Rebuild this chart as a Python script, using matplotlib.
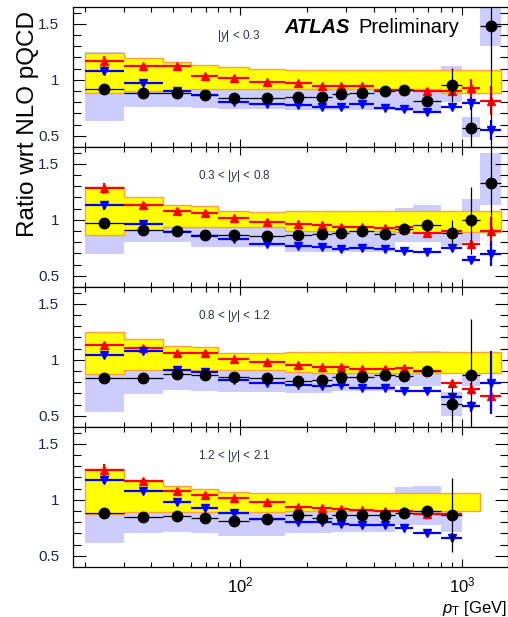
import numpy as np
import matplotlib
matplotlib.use('Agg')
import matplotlib.pyplot as plt
from matplotlib.ticker import FixedLocator, NullFormatter, LogLocator

plt.rcParams['font.family'] = ['Liberation Sans', 'DejaVu Sans']
plt.rcParams['mathtext.fontset'] = 'custom'
plt.rcParams['mathtext.rm'] = 'Liberation Sans'
plt.rcParams['mathtext.it'] = 'Liberation Sans:italic'
plt.rcParams['mathtext.bf'] = 'Liberation Sans:bold'

nan = np.nan

# pT bin edges [GeV]
pt_edges = [20, 30, 45, 60, 80, 110, 160, 210, 260, 310, 400, 500, 600, 800, 1000, 1200, 1500]

rap_labels = ['$|y|$ < 0.3', '0.3 < $|y|$ < 0.8', '0.8 < $|y|$ < 1.2', '1.2 < $|y|$ < 2.1']

# data / NLO
data_ratio = [
    [0.92, 0.88, 0.88, 0.86, 0.84, 0.84, 0.85, 0.845, 0.875, 0.883, 0.904, 0.91, 0.815, 0.955, 0.57, 1.48],
    [0.97, 0.905, 0.90, 0.867, 0.867, 0.852, 0.86, 0.87, 0.88, 0.897, 0.876, 0.92, 0.95, 0.885, 0.996, 1.325],
    [0.837, 0.837, 0.876, 0.86, 0.846, 0.837, 0.81, 0.82, 0.846, 0.846, 0.86, 0.855, 0.90, 0.607, 0.867, nan],
    [0.88, 0.845, 0.857, 0.836, 0.815, 0.83, 0.86, 0.84, 0.86, 0.86, 0.866, 0.88, 0.90, 0.866, nan, nan],
]
data_err = [
    [0.01, 0.01, 0.01, 0.01, 0.01, 0.01, 0.01, 0.01, 0.01, 0.01, 0.015, 0.02, 0.03, 0.15, 0.25, 1.1],
    [0.01, 0.01, 0.01, 0.01, 0.01, 0.01, 0.01, 0.01, 0.01, 0.01, 0.015, 0.02, 0.03, 0.11, 0.3, 0.48],
    [0.01, 0.01, 0.01, 0.01, 0.01, 0.01, 0.01, 0.01, 0.01, 0.01, 0.015, 0.02, 0.03, 0.16, 0.5, nan],
    [0.01, 0.01, 0.01, 0.01, 0.01, 0.01, 0.01, 0.01, 0.01, 0.01, 0.015, 0.02, 0.04, 0.33, nan, nan],
]
# data systematic band (lower / upper edge)
sys_lo = [
    [0.63, 0.755, 0.755, 0.745, 0.735, 0.735, 0.73, 0.73, 0.73, 0.73, 0.73, 0.72, 0.72, 0.80, 0.49, 1.30],
    [0.697, 0.80, 0.80, 0.756, 0.76, 0.76, 0.71, 0.71, 0.71, 0.71, 0.71, 0.80, 0.80, 0.77, 0.80, 1.13],
    [0.538, 0.697, 0.733, 0.718, 0.71, 0.71, 0.70, 0.70, 0.72, 0.72, 0.72, 0.77, 0.77, 0.50, 0.77, nan],
    [0.61, 0.70, 0.71, 0.70, 0.68, 0.68, 0.70, 0.70, 0.716, 0.716, 0.716, 0.776, 0.776, 0.71, nan, nan],
]
sys_hi = [
    [1.25, 1.0, 1.0, 0.98, 0.95, 0.95, 0.96, 0.96, 0.99, 1.0, 1.02, 1.04, 0.91, 1.12, 0.665, 1.64],
    [1.25, 1.01, 1.0, 0.98, 0.97, 0.95, 0.98, 0.99, 1.0, 1.03, 1.03, 1.106, 1.136, 1.0, 1.19, 1.60],
    [1.14, 0.98, 1.02, 1.0, 0.98, 0.96, 0.92, 0.94, 0.99, 0.99, 1.0, 1.0, 1.076, 0.71, 0.96, nan],
    [1.15, 0.99, 1.0, 0.97, 0.95, 0.98, 1.02, 0.98, 1.0, 1.0, 1.02, 1.11, 1.12, 1.02, nan, nan],
]
# NLO theory uncertainty band
nlo_lo = [
    [0.88, 0.90, 0.91, 0.915, 0.915, 0.917, 0.917, 0.917, 0.917, 0.917, 0.917, 0.917, 0.917, 0.886, 0.886, 0.886],
    [0.867, 0.91, 0.935, 0.935, 0.935, 0.935, 0.90, 0.90, 0.90, 0.90, 0.90, 0.89, 0.89, 0.89, 0.89, 0.89],
    [0.876, 0.906, 0.906, 0.906, 0.906, 0.906, 0.89, 0.885, 0.885, 0.885, 0.885, 0.885, 0.885, 0.885, 0.885, 0.885],
    [0.87, 0.89, 0.89, 0.89, 0.89, 0.89, 0.90, 0.90, 0.90, 0.90, 0.90, 0.90, 0.90, 0.90, 0.90, nan],
]
nlo_hi = [
    [1.24, 1.195, 1.16, 1.13, 1.11, 1.10, 1.09, 1.09, 1.09, 1.09, 1.09, 1.09, 1.09, 1.09, 1.09, 1.09],
    [1.29, 1.20, 1.13, 1.12, 1.08, 1.07, 1.08, 1.08, 1.08, 1.08, 1.08, 1.08, 1.08, 1.08, 1.08, 1.08],
    [1.244, 1.19, 1.12, 1.11, 1.06, 1.06, 1.07, 1.07, 1.07, 1.07, 1.07, 1.07, 1.07, 1.07, 1.07, 1.07],
    [1.275, 1.165, 1.125, 1.10, 1.07, 1.06, 1.06, 1.06, 1.06, 1.06, 1.06, 1.06, 1.06, 1.06, 1.06, nan],
]
# MC predictions / NLO (red up triangles, blue down triangles)
red_ratio = [
    [1.165, 1.12, 1.12, 1.035, 1.02, 0.976, 0.97, 0.946, 0.946, 0.946, 0.91, 0.91, 0.904, 0.904, 0.925, 0.815],
    [1.28, 1.13, 1.076, 1.065, 1.016, 0.98, 0.96, 0.95, 0.935, 0.935, 0.926, 0.935, 0.885, 0.897, 0.78, 0.897],
    [1.13, 1.106, 1.06, 1.06, 1.005, 0.98, 0.957, 0.94, 0.935, 0.92, 0.92, 0.927, 0.897, 0.79, 0.74, 0.68],
    [1.27, 1.165, 1.075, 1.045, 1.02, 0.98, 0.94, 0.93, 0.92, 0.91, 0.90, 0.90, 0.87, 0.87, nan, nan],
]
red_err = [
    [0.05, 0.02, 0.015, 0.015, 0.015, 0.01, 0.01, 0.01, 0.01, 0.01, 0.01, 0.015, 0.02, 0.03, 0.08, 0.13],
    [0.05, 0.02, 0.015, 0.015, 0.01, 0.01, 0.01, 0.01, 0.01, 0.01, 0.01, 0.01, 0.015, 0.02, 0.04, 0.13],
    [0.03, 0.02, 0.015, 0.015, 0.01, 0.01, 0.01, 0.01, 0.01, 0.01, 0.01, 0.01, 0.015, 0.03, 0.05, 0.10],
    [0.05, 0.02, 0.02, 0.015, 0.01, 0.01, 0.01, 0.01, 0.01, 0.01, 0.01, 0.01, 0.02, 0.03, nan, nan],
]
blue_ratio = [
    [1.075, 0.97, 0.904, 0.865, 0.805, 0.78, 0.773, 0.755, 0.76, 0.78, 0.75, 0.74, 0.716, 0.76, 0.79, 0.55],
    [1.13, 0.966, 0.89, 0.855, 0.83, 0.787, 0.77, 0.756, 0.735, 0.747, 0.735, 0.718, 0.71, 0.747, 0.643, 0.697],
    [1.047, 1.08, 0.912, 0.89, 0.82, 0.796, 0.777, 0.77, 0.777, 0.747, 0.747, 0.718, 0.718, 0.666, 0.586, 0.796],
    [1.18, 1.075, 0.976, 0.925, 0.88, 0.83, 0.805, 0.80, 0.78, 0.776, 0.776, 0.75, 0.70, 0.66, nan, nan],
]
blue_err = [
    [0.03, 0.02, 0.015, 0.01, 0.01, 0.01, 0.01, 0.01, 0.01, 0.01, 0.01, 0.01, 0.02, 0.02, 0.06, 0.09],
    [0.04, 0.02, 0.015, 0.01, 0.01, 0.01, 0.01, 0.01, 0.01, 0.01, 0.01, 0.01, 0.015, 0.02, 0.03, 0.11],
    [0.03, 0.02, 0.015, 0.01, 0.01, 0.01, 0.01, 0.01, 0.01, 0.01, 0.01, 0.01, 0.015, 0.03, 0.05, 0.28],
    [0.04, 0.02, 0.015, 0.01, 0.01, 0.01, 0.01, 0.01, 0.01, 0.01, 0.01, 0.01, 0.02, 0.04, nan, nan],
]

edges = np.array(pt_edges, dtype=float)
centers = np.sqrt(edges[:-1] * edges[1:])
xerr = np.vstack([centers - edges[:-1], edges[1:] - centers])

W, H = 508, 617
fig = plt.figure(figsize=(W / 100, H / 100), dpi=100)

left = 73.3 / W
width = 1.0 - left
ph = 140 / H
navy = '#24244c'


def band(ax, lo, hi, **kw):
    lo = np.array(lo, dtype=float)
    hi = np.array(hi, dtype=float)
    ok = ~np.isnan(lo)
    n = ok.sum()
    ax.stairs(hi[:n], edges[:n + 1], baseline=lo[:n], fill=True, **kw)


def points(ax, y, err, color, marker, ms, lw, z):
    y = np.array(y, dtype=float)
    err = np.array(err, dtype=float)
    ok = ~np.isnan(y)
    ax.errorbar(centers[ok], y[ok], yerr=err[ok], xerr=xerr[:, ok], fmt=marker,
                color=color, ms=ms, lw=lw, elinewidth=lw, capsize=0, zorder=z)


axes = []
for i in range(4):
    bottom = (H - (147 + 140 * i)) / H
    ax = fig.add_axes([left, bottom, width, ph])
    axes.append(ax)

    band(ax, sys_lo[i], sys_hi[i], color='#ccccff', lw=0, zorder=1)
    band(ax, nlo_lo[i], nlo_hi[i], facecolor='#ffff00', edgecolor='#ffa040', lw=1.0, zorder=2)

    points(ax, red_ratio[i], red_err[i], '#ff0000', '^', 6, 1.6, 4)
    points(ax, blue_ratio[i], blue_err[i], '#0000ff', 'v', 6, 1.6, 5)
    points(ax, data_ratio[i], data_err[i], 'black', 'o', 7.5, 0.9, 6)

    ax.set_xscale('log')
    ax.set_xlim(17.8, 1605)
    ax.set_ylim(0.4, 1.65)

    ax.yaxis.set_major_locator(FixedLocator([0.5, 1.0, 1.5]))
    ax.yaxis.set_minor_locator(FixedLocator(np.arange(0.5, 1.65, 0.1)))
    ax.set_yticklabels(['0.5', '1', '1.5'])
    ax.tick_params(axis='y', which='major', direction='in', length=9.5, width=0.8,
                   left=True, right=True, labelsize=11, labelcolor=navy, pad=10)
    ax.tick_params(axis='y', which='minor', direction='in', length=5.5, width=0.8,
                   left=True, right=True)
    ax.xaxis.set_major_locator(LogLocator(base=10, numticks=10))
    ax.xaxis.set_minor_locator(LogLocator(base=10, subs=np.arange(2, 10), numticks=20))
    ax.xaxis.set_minor_formatter(NullFormatter())
    ax.tick_params(axis='x', which='major', direction='in', length=6, width=0.8,
                   top=True, bottom=True, labelsize=12, pad=6)
    ax.tick_params(axis='x', which='minor', direction='in', length=3.5, width=0.8,
                   top=True, bottom=True)
    if i < 3:
        ax.tick_params(axis='x', which='both', labelbottom=False)
    for s in ax.spines.values():
        s.set_linewidth(0.9)

    lx = 0.33 if i == 0 else 0.288
    ax.text(lx, 0.79, rap_labels[i], transform=ax.transAxes, fontsize=8.5,
            color='#30304a', va='center', ha='left')

axes[0].text(0.485, 0.857, 'ATLAS', transform=axes[0].transAxes, fontsize=14.5,
             fontweight='bold', fontstyle='italic', va='center', ha='left', zorder=10)
axes[0].text(0.655, 0.857, 'Preliminary', transform=axes[0].transAxes, fontsize=14.5,
             va='center', ha='left', zorder=10)

fig.text(0.055, 1 - 124 / H, 'Ratio wrt NLO pQCD', rotation=90, fontsize=17.5,
         ha='center', va='center')
fig.text(0.998, 9 / H, '$p_{\\mathrm{T}}$ [GeV]', fontsize=12, ha='right', va='center')

fig.savefig('out.png', dpi=100)
